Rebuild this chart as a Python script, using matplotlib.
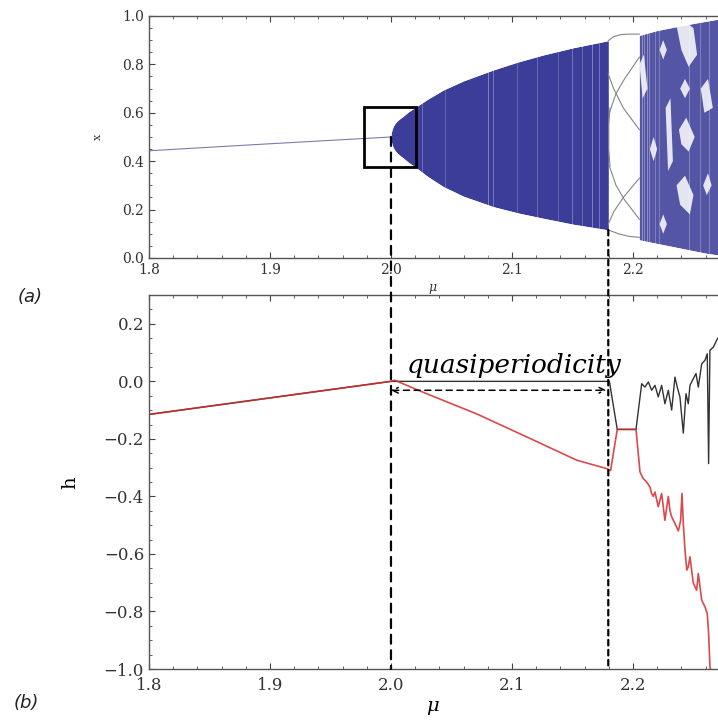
import matplotlib
matplotlib.use("Agg")
import matplotlib.pyplot as plt
from matplotlib.ticker import MultipleLocator
from matplotlib.patches import Rectangle, ConnectionPatch, Polygon


# ---- (a) bifurcation diagram ----
mu_fixed = [1.8, 1.9, 2.0]
x_fixed = [0.443, 0.472, 0.50]

# quasiperiodic band (envelope)
mu_band = [2.0, 2.0004, 2.001, 2.002, 2.0035, 2.0055, 2.008, 2.0102, 2.0145, 2.0204, 2.03,
           2.0432, 2.06, 2.0846, 2.105, 2.1259, 2.15, 2.1796]
band_up = [0.50, 0.52, 0.532, 0.545, 0.557, 0.568, 0.578, 0.586, 0.604, 0.623, 0.655,
           0.694, 0.732, 0.777, 0.81, 0.839, 0.868, 0.898]
band_lo = [0.50, 0.48, 0.468, 0.455, 0.443, 0.432, 0.421, 0.413, 0.395, 0.375, 0.338,
           0.295, 0.255, 0.212, 0.186, 0.164, 0.14, 0.116]

# light streaks inside the bands
streak_mu = [2.026, 2.045, 2.080, 2.084, 2.104, 2.121, 2.138, 2.150, 2.158, 2.166, 2.172,
             2.2075, 2.2095, 2.2115, 2.2135, 2.2185, 2.2215, 2.2465, 2.2555, 2.2625]
streak_alpha = [0.25, 0.2, 0.35, 0.3, 0.2, 0.25, 0.2, 0.3, 0.25, 0.35, 0.3,
                0.35, 0.3, 0.35, 0.3, 0.25, 0.25, 0.3, 0.25, 0.3]

# periodic window curves
win_curves = [
    ([2.1796, 2.184, 2.190, 2.196, 2.2053], [0.898, 0.915, 0.923, 0.925, 0.925]),
    ([2.1805, 2.186, 2.193, 2.2053], [0.60, 0.68, 0.74, 0.83]),
    ([2.1796, 2.184, 2.192, 2.2053], [0.76, 0.70, 0.62, 0.53]),
    ([2.181, 2.1800, 2.1800, 2.181], [0.62, 0.55, 0.45, 0.38]),
    ([2.1805, 2.186, 2.193, 2.2053], [0.38, 0.30, 0.24, 0.16]),
    ([2.1796, 2.184, 2.192, 2.2053], [0.14, 0.19, 0.25, 0.33]),
    ([2.1796, 2.188, 2.196, 2.2053], [0.116, 0.10, 0.09, 0.085]),
]

# chaotic band after the window
mu_chaos = [2.2053, 2.22, 2.24, 2.26, 2.28]
chaos_up = [0.92, 0.94, 0.96, 0.978, 0.995]
chaos_lo = [0.075, 0.06, 0.04, 0.02, 0.005]

holes = [
    ([2.236, 2.242, 2.250, 2.253, 2.246, 2.240], [0.96, 0.98, 0.95, 0.84, 0.79, 0.86]),
    ([2.238, 2.244, 2.251, 2.246, 2.240], [0.53, 0.58, 0.50, 0.44, 0.47]),
    ([2.236, 2.243, 2.250, 2.247, 2.239], [0.30, 0.34, 0.26, 0.18, 0.22]),
    ([2.2053, 2.209, 2.212, 2.208], [0.80, 0.84, 0.70, 0.66]),
    ([2.227, 2.231, 2.233, 2.229], [0.62, 0.66, 0.40, 0.36]),
    ([2.256, 2.262, 2.266, 2.259], [0.70, 0.74, 0.62, 0.60]),
    ([2.222, 2.225, 2.228, 2.225], [0.86, 0.90, 0.86, 0.82]),
    ([2.222, 2.225, 2.228, 2.225], [0.14, 0.18, 0.14, 0.10]),
    ([2.239, 2.243, 2.247, 2.243], [0.70, 0.74, 0.70, 0.66]),
    ([2.258, 2.262, 2.265, 2.261], [0.30, 0.35, 0.30, 0.26]),
    ([2.214, 2.217, 2.220, 2.217], [0.45, 0.50, 0.45, 0.40]),
]

# ---- (b) Lyapunov exponents ----
mu_red = [1.8, 2.0, 2.003, 2.0295, 2.0708, 2.1121, 2.1535, 2.178, 2.1815, 2.187, 2.2025,
          2.2058, 2.2085, 2.2113, 2.2140, 2.2154, 2.2168, 2.2182, 2.2209, 2.2237, 2.2264,
          2.2292, 2.2306, 2.232, 2.2347, 2.2375, 2.2394, 2.2405, 2.2416, 2.243, 2.2445,
          2.2457, 2.2471, 2.2498, 2.2526, 2.254, 2.2568, 2.2595, 2.2614, 2.2625, 2.2636, 2.264]
h_red = [-0.115, 0.0, 0.004, -0.043, -0.113, -0.193, -0.274, -0.303, -0.31, -0.167, -0.167,
         -0.315, -0.338, -0.35, -0.367, -0.39, -0.40, -0.385, -0.436, -0.39, -0.483,
         -0.40, -0.45, -0.471, -0.494, -0.52, -0.483, -0.39, -0.494, -0.587, -0.656,
         -0.645, -0.61, -0.70, -0.726, -0.668, -0.76, -0.784, -0.807, -0.876, -0.99, -1.0]

mu_blk = [1.8, 2.0, 2.1805, 2.187, 2.2025, 2.2072, 2.2099, 2.2127, 2.2154, 2.2182, 2.2209,
          2.2237, 2.2264, 2.2292, 2.2320, 2.2347, 2.2366, 2.2388, 2.2416, 2.2438, 2.2457,
          2.2471, 2.2498, 2.2521, 2.2540, 2.2568, 2.2595, 2.2614, 2.2625, 2.2636, 2.2664, 2.2700, 2.275]
h_blk = [-0.115, 0.0, 0.0, -0.167, -0.167, -0.008, -0.020, -0.002, -0.031, -0.014, -0.054,
         -0.014, -0.078, -0.031, -0.10, 0.015, -0.020, -0.054, -0.18, -0.043, -0.078,
         -0.014, 0.009, 0.027, -0.020, 0.061, 0.073, 0.096, -0.286, 0.108, 0.119, 0.15, 0.17]

xticks = [1.8, 1.9, 2.0, 2.1, 2.2]


def style_axes(ax, size, xpad):
    ax.set_xlim(1.8, 2.3)
    ax.set_xticks(xticks)
    ax.xaxis.set_minor_locator(MultipleLocator(0.02))
    ax.yaxis.set_major_locator(MultipleLocator(0.2))
    ax.yaxis.set_minor_locator(MultipleLocator(0.05))
    ax.tick_params(which="both", direction="in", top=True, right=True, colors="#444444",
                   labelcolor="#333333", labelsize=size)
    ax.tick_params(which="major", length=4)
    ax.tick_params(which="minor", length=2)
    ax.tick_params(axis="x", pad=xpad)
    for s in ax.spines.values():
        s.set_color("#555555")
        s.set_linewidth(1.0)
    for lab in ax.get_xticklabels() + ax.get_yticklabels():
        lab.set_family("DejaVu Serif")


def main():
    fig = plt.figure(figsize=(7.18, 7.2), dpi=100)
    ax1 = fig.add_axes([0.2075, 0.6417, 0.8426, 0.3361])
    ax2 = fig.add_axes([0.2075, 0.0708, 0.8426, 0.5194])

    blue = "#3c3d98"

    # (a)
    ax1.set_ylim(0, 1.0)
    ax1.plot(mu_fixed, x_fixed, color="#7c7cac", lw=0.8)
    ax1.fill_between(mu_band, band_lo, band_up, color=blue, lw=0)
    ax1.fill_between(mu_chaos, chaos_lo, chaos_up, color=blue, lw=0, alpha=0.88)
    for m, a in zip(streak_mu, streak_alpha):
        ax1.vlines(m, 0.0, 1.0, color="white", lw=0.7, alpha=a)
    ax1.fill_between(mu_band, band_up, 1.0, color="white", lw=0)
    ax1.fill_between(mu_band, 0.0, band_lo, color="white", lw=0)
    ax1.fill_between(mu_chaos, chaos_up, 1.0, color="white", lw=0)
    ax1.fill_between(mu_chaos, 0.0, chaos_lo, color="white", lw=0)
    for mm, xx in win_curves:
        ax1.plot(mm, xx, color="#858585", lw=0.8)
    for mm, xx in holes:
        ax1.add_patch(Polygon(list(zip(mm, xx)), closed=True, color="white", lw=0, alpha=0.85))
    ax1.add_patch(Rectangle((1.978, 0.376), 0.043, 0.248, fill=False, ec="black", lw=2, zorder=5))
    style_axes(ax1, 10, 3.5)

    # (b)
    ax2.set_ylim(-1.0, 0.3)
    ax2.plot(mu_blk, h_blk, color="#333333", lw=1.0)
    ax2.plot(mu_red, h_red, color="#d42a2a", lw=1.2, alpha=0.85)
    style_axes(ax2, 12, 6)

    ax2.annotate("", xy=(2.178, -0.031), xytext=(2.0, -0.031),
                 arrowprops=dict(arrowstyle="<->", linestyle=(0, (4, 3)), lw=1.1,
                                 color="black", shrinkA=0, shrinkB=0))
    ax2.text(2.013, 0.055, "quasiperiodicity", style="italic", family="DejaVu Serif",
             fontsize=19, va="center", ha="left")

    # dashed guides linking both panels
    for m, y0, dash in [(2.0, 0.5, (0, (4, 3))), (2.1796, 0.116, (0, (2.5, 2)))]:
        con = ConnectionPatch(xyA=(m, y0), coordsA=ax1.transData,
                              xyB=(m, -1.0), coordsB=ax2.transData,
                              color="black", lw=1.6, linestyle=dash)
        fig.add_artist(con)

    fig.text(0.136, 0.81, "x", rotation=90, fontsize=8, family="DejaVu Serif",
             ha="center", va="center", color="#333333")
    fig.text(0.603, 0.601, "μ", style="italic", fontsize=9, family="DejaVu Serif",
             ha="center", va="center", color="#333333")
    fig.text(0.0975, 0.329, "h", rotation=90, fontsize=14, family="DejaVu Serif",
             ha="center", va="center")
    fig.text(0.602, 0.019, "μ", style="italic", fontsize=14, family="DejaVu Serif",
             ha="center", va="center")
    fig.text(0.042, 0.5875, "(a)", style="italic", fontsize=13, ha="center", va="center",
             color="#222222")
    fig.text(0.036, 0.024, "(b)", style="italic", fontsize=13, ha="center", va="center",
             color="#222222")

    fig.savefig("out.png", dpi=100)


if __name__ == "__main__":
    main()
